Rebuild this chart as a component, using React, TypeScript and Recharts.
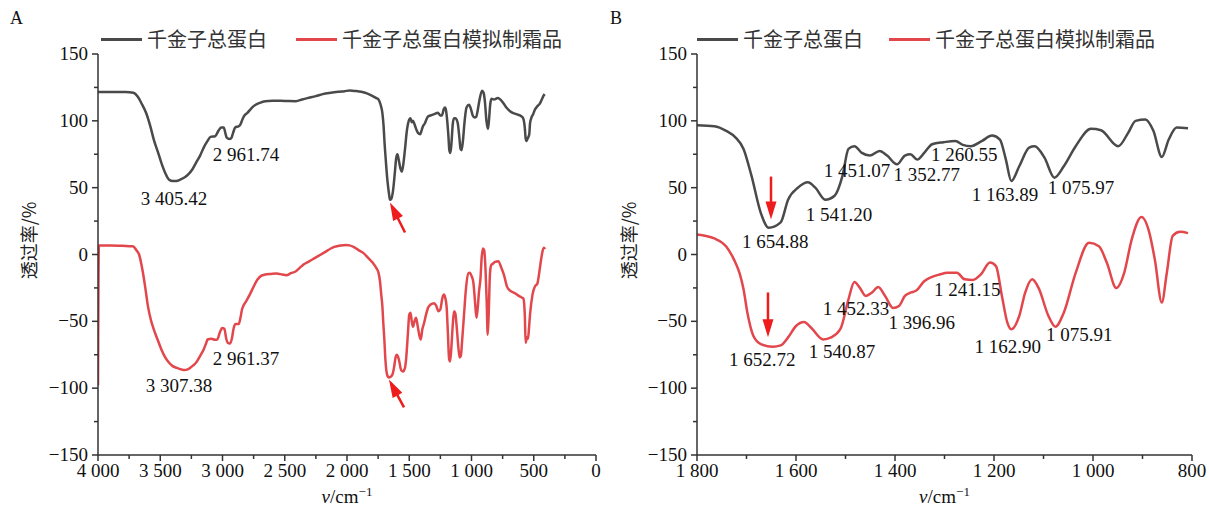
import React from 'react';
import { LineChart, Line, XAxis, YAxis, ReferenceDot, ReferenceLine } from 'recharts';

type Pt = [number, number];

const seriesNames = ['千金子总蛋白', '千金子总蛋白模拟制霜品'];

// panel A: wavenumber (cm-1), transmittance (%)
const grayA: Pt[] = [
  [4000, 121.5], [3900, 121.5], [3780, 121.5], [3716, 121], [3680, 118], [3650, 113], [3614, 106],
  [3580, 96], [3552, 86], [3520, 77], [3491, 68.6], [3460, 61], [3429, 56], [3400, 55], [3370, 55],
  [3340, 56], [3300, 58], [3275, 60], [3240, 64], [3213, 68.6], [3180, 74], [3151, 80], [3120, 85],
  [3096, 88], [3059, 88.5], [3030, 93], [3010, 95], [2990, 95], [2975, 90], [2966, 87.5], [2945, 86.5],
  [2930, 87], [2915, 91], [2898, 95], [2870, 96], [2858, 97], [2840, 101], [2827, 103.5], [2800, 106],
  [2750, 111], [2700, 113.5], [2657, 114.7], [2600, 115], [2534, 115], [2470, 114.8], [2410, 114.7],
  [2360, 116], [2318, 117], [2250, 118.5], [2195, 120], [2130, 121], [2071, 121.7], [2020, 122.2],
  [1978, 122.7], [1930, 122.3], [1886, 121.7], [1840, 120.5], [1793, 118.5], [1765, 117], [1747, 116],
  [1730, 112], [1716, 106], [1706, 96], [1700, 86], [1688, 70], [1676, 56], [1662, 45], [1655, 41],
  [1645, 41.5], [1630, 48], [1615, 62], [1605, 72], [1595, 75], [1585, 71], [1570, 64], [1560, 62],
  [1550, 66], [1535, 78], [1520, 92], [1500, 101], [1490, 102], [1480, 99], [1470, 100], [1460, 98],
  [1445, 94], [1430, 91], [1412, 90], [1400, 93], [1390, 96], [1375, 98], [1352, 103], [1330, 104],
  [1300, 105], [1270, 106], [1250, 104], [1238, 104], [1222, 109], [1212, 110], [1205, 108],
  [1195, 100], [1185, 88], [1178, 78], [1170, 76], [1162, 82], [1150, 98], [1140, 102], [1130, 102],
  [1120, 101], [1110, 98], [1098, 88], [1088, 79], [1080, 78], [1070, 84], [1055, 100], [1040, 110],
  [1020, 112], [1005, 109], [990, 104], [975, 102.5], [962, 103], [950, 108], [935, 116], [915, 122.5],
  [903, 121], [893, 115], [880, 100], [868, 94], [860, 100], [850, 112], [840, 116.5], [820, 116],
  [790, 117], [750, 114], [720, 110], [680, 106.5], [640, 105], [600, 103.5], [585, 102], [572, 95],
  [565, 87], [558, 85], [548, 87], [536, 90], [530, 98], [520, 102], [505, 105], [490, 108.5],
  [470, 111], [450, 113], [435, 116], [420, 119], [412, 120],
];

const redA: Pt[] = [
  [4000, -98], [3993, 6.7], [3900, 6.7], [3800, 6.5], [3720, 6.2], [3690, 3], [3670, 0], [3650, -8],
  [3639, -13.7], [3620, -25], [3599, -38.6], [3575, -49], [3552, -56], [3520, -64], [3491, -71],
  [3460, -77], [3429, -81], [3400, -83.5], [3367, -84.8], [3330, -86], [3306, -86.5], [3280, -86],
  [3259, -84.8], [3235, -83], [3213, -81], [3180, -76], [3151, -71], [3130, -66], [3120, -63.6],
  [3090, -63], [3060, -63.8], [3043, -63.6], [3020, -58], [3003, -55], [2985, -55.6], [2970, -63],
  [2958, -66], [2940, -66.6], [2925, -63], [2910, -55], [2895, -52], [2870, -52], [2855, -47],
  [2843, -41], [2810, -35], [2781, -30], [2750, -24], [2719, -18.7], [2690, -16], [2657, -15],
  [2610, -14.5], [2565, -14.2], [2520, -15], [2488, -15.5], [2450, -14], [2410, -12.5], [2380, -10],
  [2349, -7.5], [2300, -5], [2256, -2.5], [2210, 0], [2164, 2.5], [2130, 4.5], [2102, 5.7],
  [2050, 6.8], [2009, 7.2], [1980, 6.8], [1948, 5.7], [1910, 3.5], [1870, 1.2], [1830, -2.5],
  [1793, -6.2], [1765, -10], [1747, -13.7], [1735, -20], [1725, -30], [1716, -38.6], [1708, -52],
  [1700, -63.6], [1692, -78], [1685, -86], [1674, -91], [1664, -92], [1650, -91.5], [1635, -89.8],
  [1623, -85], [1610, -77], [1600, -75], [1590, -76.5], [1580, -80], [1565, -86.5], [1550, -87.5],
  [1535, -85], [1525, -78], [1510, -58], [1500, -45], [1490, -43.6], [1480, -50], [1470, -54],
  [1458, -50], [1446, -47.4], [1435, -52], [1420, -60], [1408, -63.6], [1395, -56], [1383, -52],
  [1365, -45], [1350, -40], [1330, -37.5], [1300, -36.5], [1285, -38], [1265, -42.4], [1250, -41],
  [1235, -33], [1222, -30], [1212, -32], [1200, -39], [1190, -58], [1180, -78], [1172, -80],
  [1162, -70], [1150, -52], [1140, -42.5], [1130, -44], [1118, -55], [1105, -70], [1095, -77],
  [1086, -76], [1075, -64], [1060, -45], [1045, -26], [1025, -14], [1015, -13.7], [1000, -16],
  [985, -21], [972, -35], [960, -47.4], [950, -40], [940, -28], [928, -18], [918, -2], [908, 4.5],
  [898, 3], [888, -10], [878, -35], [870, -60], [862, -45], [852, -15], [842, -8], [830, -7],
  [810, -5.5], [785, -5], [760, -10], [740, -15], [715, -24], [690, -27], [650, -29], [620, -31],
  [600, -32], [583, -33], [572, -45], [565, -66], [555, -62], [546, -63], [538, -55], [530, -45],
  [510, -30], [490, -23.7], [472, -22], [455, -13], [441, -3.7], [428, 3], [418, 5], [410, 4],
];

// panel B: 1800-800 cm-1 detail
const grayB: Pt[] = [
  [1800, 96.7], [1765, 96], [1741, 92.5], [1722, 87.5], [1706, 79], [1690, 59], [1671, 31],
  [1655, 20], [1631, 24], [1616, 41], [1596, 50], [1576, 54], [1561, 50], [1541, 41], [1522, 44],
  [1506, 59], [1494, 79], [1482, 81], [1467, 76], [1451, 74], [1431, 77.5], [1416, 74], [1396, 67.5],
  [1380, 74], [1369, 75], [1355, 71], [1341, 76], [1325, 82.5], [1302, 84], [1278, 85], [1263, 82],
  [1247, 81], [1224, 85], [1204, 89], [1188, 86], [1176, 71], [1165, 55], [1149, 66], [1129, 80],
  [1118, 81], [1098, 72.5], [1078, 57.5], [1059, 66], [1035, 81], [1004, 94], [984, 93], [949, 81],
  [929, 91], [914, 100], [894, 101], [878, 92.5], [861, 73], [847, 86], [831, 95], [808, 94.5],
];

const redB: Pt[] = [
  [1800, 15], [1765, 12], [1741, 6], [1725, -4], [1714, -14], [1706, -26], [1698, -44], [1686, -61],
  [1671, -67], [1647, -69], [1631, -68], [1616, -62], [1600, -53.5], [1584, -50.5], [1569, -55],
  [1545, -63.5], [1529, -62], [1510, -55.5], [1494, -33.5], [1482, -20.6], [1471, -25], [1459, -31],
  [1447, -28.6], [1434, -24.4], [1420, -31], [1404, -40], [1392, -38.5], [1380, -31], [1369, -28.6],
  [1357, -27], [1341, -20], [1325, -16.7], [1310, -15], [1294, -13.7], [1275, -13.7], [1259, -18.6],
  [1243, -19], [1227, -15], [1208, -6], [1196, -8.7], [1184, -31], [1173, -51], [1165, -56],
  [1149, -46], [1137, -28.6], [1123, -18.6], [1110, -25], [1090, -46], [1076, -54], [1059, -43.5],
  [1035, -13.7], [1008, 8.7], [988, 6.2], [972, -6.2], [953, -25], [937, -13.7], [922, 11],
  [902, 28], [886, 16], [875, -4], [861, -36], [851, -14], [839, 14], [824, 17], [808, 16],
];

const xTicksA = [0, 250, 500, 750, 1000, 1250, 1500, 1750, 2000, 2250, 2500, 2750, 3000, 3250, 3500, 3750, 4000];
const xTicksB = [800, 900, 1000, 1100, 1200, 1300, 1400, 1500, 1600, 1700, 1800];
const yTicks = [-150, -125, -100, -75, -50, -25, 0, 25, 50, 75, 100, 125, 150];

// peak labels (wavenumber, transmittance, text)
const peaksA: [number, number, string][] = [
  [3390, 41.5, '3 405.42'], [2811, 74.8, '2 961.74'],
  [3349, -98.7, '3 307.38'], [2811, -78.5, '2 961.37'],
];
const peaksB: [number, number, string][] = [
  [1642, 9.3, '1 654.88'], [1513, 29.5, '1 541.20'], [1477, 62.5, '1 451.07'],
  [1336, 59.8, '1 352.77'], [1260, 74.4, '1 260.55'], [1178, 44.5, '1 163.89'], [1024, 49.7, '1 075.97'],
  [1668, -78.9, '1 652.72'], [1507, -72.9, '1 540.87'], [1479, -41.1, '1 452.33'],
  [1346, -51.6, '1 396.96'], [1254, -26.2, '1 241.15'], [1172, -69.2, '1 162.90'], [1028, -60.2, '1 075.91'],
];
// arrows: tail -> tip
const arrowsA: [Pt, Pt][] = [[[1534, 16.5], [1655, 38.9]], [[1542, -114.4], [1663, -93.5]]];
const arrowsB: [Pt, Pt][] = [[[1650.5, 58.3], [1650.5, 26.2]], [[1656.6, -28.4], [1656.6, -62]]];

const GRAY = '#4a4a4a';
const RED = '#e2474c';
const ARROW = '#ee1c1c';
const AXIS = '#333';
const SERIF = '"Liberation Serif", "Times New Roman", serif';
const CJK = '"Noto Sans CJK SC", sans-serif';

const toRows = (pts: Pt[]) => pts.map(([wn, t]) => ({ wn, t }));

const fmtWn = (v: number) =>
  v >= 1000 ? `${Math.floor(v / 1000)} ${String(v % 1000).padStart(3, '0')}` : String(v);
const fmtT = (v: number) => (v < 0 ? `\u2212${-v}` : String(v));

const makeXTick = (step: number) => (props: any) => {
  const { x, y, payload } = props;
  const major = payload.value % step === 0;
  return (
    <g>
      <line x1={x} x2={x} y1={y} y2={y + (major ? 6 : 4)} stroke={AXIS} strokeWidth={1.5} />
      {major && (
        <text x={x} y={y + 22} textAnchor="middle" fontSize={19} fontFamily={SERIF} fill="#111">
          {fmtWn(payload.value)}
        </text>
      )}
    </g>
  );
};

const YTick = (props: any) => {
  const { x, y, payload } = props;
  const major = payload.value % 50 === 0;
  return (
    <g>
      <line x1={x} x2={x - (major ? 6 : 4)} y1={y} y2={y} stroke={AXIS} strokeWidth={1.5} />
      {major && (
        <text x={x - 10} y={y + 6} textAnchor="end" fontSize={19} fontFamily={SERIF} fill="#111">
          {fmtT(payload.value)}
        </text>
      )}
    </g>
  );
};

const XLabel = (props: any) => {
  const { x, y, width } = props.viewBox;
  return (
    <text x={x + width / 2} y={y + 48} textAnchor="middle" fontSize={19} fontFamily={SERIF} fill="#111">
      <tspan fontStyle="italic">v</tspan>/cm
      <tspan dy={-7} fontSize={13}>{'\u22121'}</tspan>
    </text>
  );
};

const YLabel = (props: any) => {
  const { y, height } = props.viewBox;
  const cy = y + height / 2 - 14;
  return (
    <text x={28} y={cy} transform={`rotate(-90 28 ${cy})`} textAnchor="middle" dominantBaseline="central"
      fontSize={18} fontFamily={CJK} fill="#222">
      透过率/%
    </text>
  );
};

const Arrow = (p: any) => {
  const { x1, y1, x2, y2 } = p;
  const len = Math.hypot(x2 - x1, y2 - y1) || 1;
  const ux = (x2 - x1) / len;
  const uy = (y2 - y1) / len;
  const hl = 18;
  const hw = 5.5;
  const bx = x2 - ux * hl;
  const by = y2 - uy * hl;
  return (
    <g>
      <line x1={x1} y1={y1} x2={bx + ux * 2} y2={by + uy * 2} stroke={ARROW} strokeWidth={2.5} />
      <polygon points={`${x2},${y2} ${bx - uy * hw},${by + ux * hw} ${bx + uy * hw},${by - ux * hw}`} fill={ARROW} />
    </g>
  );
};

const peakText = (text: string) => (p: any) => (
  <text x={p.cx} y={p.cy + 6} textAnchor="middle" fontSize={19} fontFamily={SERIF} fill="#111">
    {text}
  </text>
);

function Legend({ left, gap }: { left: number; gap: number }) {
  const item = (color: string, name: string) => (
    <div style={{ display: 'flex', alignItems: 'center' }}>
      <div style={{ width: 41, height: 3, background: color, marginRight: 5 }} />
      <span style={{ fontFamily: CJK, fontSize: 20, color: '#333', lineHeight: '24px' }}>{name}</span>
    </div>
  );
  return (
    <div style={{ position: 'absolute', left, top: 27, display: 'flex', gap }}>
      {item(GRAY, seriesNames[0])}
      {item(RED, seriesNames[1])}
    </div>
  );
}

interface PanelProps {
  left: number;
  width: number;
  letter: string;
  domain: [number, number];
  xTicks: number[];
  major: number;
  gray: Pt[];
  red: Pt[];
  peaks: [number, number, string][];
  arrows: [Pt, Pt][];
  legendLeft: number;
  legendGap: number;
  yAxisWidth: number;
  rightMargin: number;
}

function Panel(p: PanelProps) {
  return (
    <div style={{ position: 'absolute', left: p.left, top: 0, width: p.width, height: 513 }}>
      <div style={{ position: 'absolute', left: 10, top: 8, fontFamily: SERIF, fontSize: 18, color: '#111' }}>
        {p.letter}
      </div>
      <Legend left={p.legendLeft} gap={p.legendGap} />
      <LineChart width={p.width} height={513} margin={{ top: 54, right: p.rightMargin, bottom: 18, left: 0 }}>
        <XAxis
          type="number"
          dataKey="wn"
          domain={p.domain}
          reversed
          allowDataOverflow
          ticks={p.xTicks}
          interval={0}
          tickSize={0}
          tickMargin={0}
          tickLine={false}
          tick={makeXTick(p.major)}
          axisLine={{ stroke: AXIS, strokeWidth: 1.5 }}
          height={40}
          label={XLabel}
        />
        <YAxis
          type="number"
          domain={[-150, 150]}
          allowDataOverflow
          ticks={yTicks}
          interval={0}
          tickSize={0}
          tickMargin={0}
          tickLine={false}
          tick={YTick}
          axisLine={{ stroke: AXIS, strokeWidth: 1.5 }}
          width={p.yAxisWidth}
          label={YLabel}
        />
        <Line data={toRows(p.gray)} dataKey="t" type="monotone" stroke={GRAY} strokeWidth={2.5} dot={false}
          isAnimationActive={false} name={seriesNames[0]} />
        <Line data={toRows(p.red)} dataKey="t" type="monotone" stroke={RED} strokeWidth={2.5} dot={false}
          isAnimationActive={false} name={seriesNames[1]} />
        {p.peaks.map(([wn, t, text]) => (
          <ReferenceDot key={text} x={wn} y={t} r={1} shape={peakText(text)} />
        ))}
        {p.arrows.map(([a, b], i) => (
          <ReferenceLine key={i} segment={[{ x: a[0], y: a[1] }, { x: b[0], y: b[1] }]} shape={Arrow} />
        ))}
      </LineChart>
    </div>
  );
}

export default function App() {
  return (
    <div style={{ position: 'absolute', left: 0, top: 0, width: 1209, height: 513, background: '#fff', overflow: 'hidden' }}>
      <Panel left={0} width={610} letter="A" domain={[0, 4000]} xTicks={xTicksA} major={500}
        gray={grayA} red={redA} peaks={peaksA} arrows={arrowsA}
        legendLeft={101} legendGap={29} yAxisWidth={98} rightMargin={14} />
      <Panel left={600} width={609} letter="B" domain={[800, 1800]} xTicks={xTicksB} major={200}
        gray={grayB} red={redB} peaks={peaksB} arrows={arrowsB}
        legendLeft={97} legendGap={26} yAxisWidth={97} rightMargin={17} />
    </div>
  );
}
